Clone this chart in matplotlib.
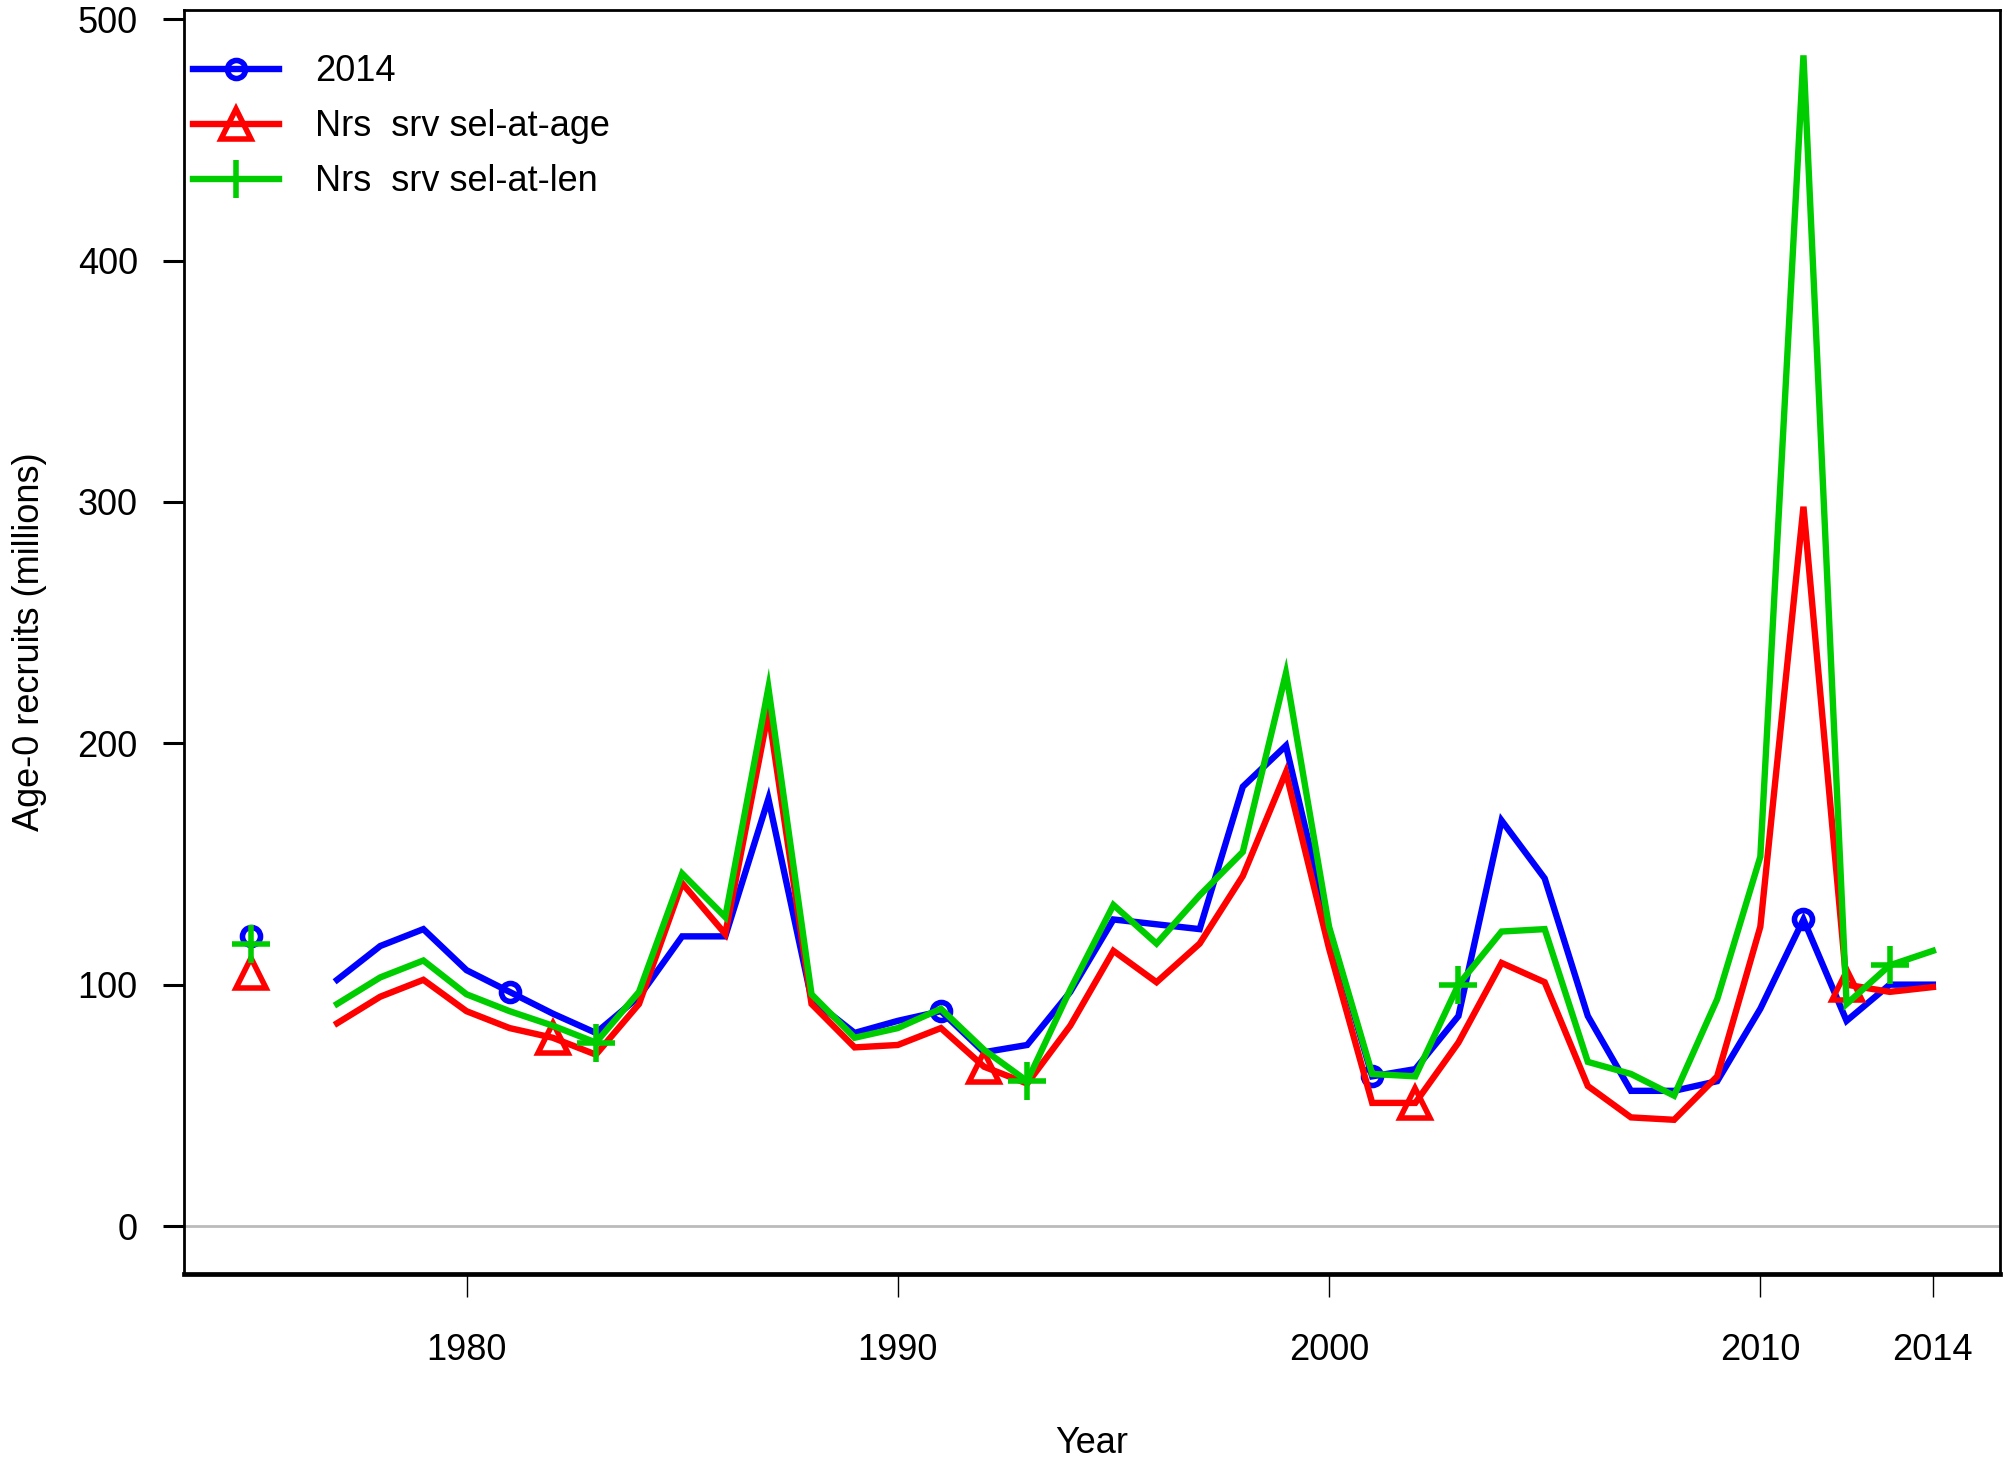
import numpy as np
import matplotlib
matplotlib.use("Agg")
import matplotlib.pyplot as plt

plt.rcParams["font.family"] = ["Liberation Sans", "DejaVu Sans"]

# Data: age-0 recruits (millions); 1975 = virgin, 1976 not estimated
years = list(range(1975, 2015))

rec_2014 = [120, np.nan,
            102, 116, 123, 106, 97, 88, 80, 95, 120, 120, 177, 94, 80, 85,
            89, 72, 75, 97, 127, 125, 123, 182, 199, 123, 62, 65, 87, 168,
            144, 87, 56, 56, 60, 90, 127, 85, 100, 100]
rec_age = [105, np.nan,
           84, 95, 102, 89, 82, 78, 71, 92, 142, 121, 213, 92, 74, 75,
           82, 66, 59, 83, 114, 101, 117, 145, 188, 115, 51, 51, 76, 109,
           101, 58, 45, 44, 62, 124, 298, 100, 97, 99]
rec_len = [117, np.nan,
           92, 103, 110, 96, 89, 83, 76, 97, 146, 128, 223, 96, 78, 82,
           90, 73, 60, 98, 133, 117, 137, 155, 229, 124, 63, 62, 100, 122,
           123, 68, 63, 54, 94, 153, 485, 92, 108, 114]

labels = ["2014", "Nrs  srv sel-at-age", "Nrs  srv sel-at-len"]
colors = ["#0000FF", "#FF0000", "#00CD00"]
markers = ["o", "^", "+"]
marker_years = [[1975, 1981, 1991, 2001, 2011],
                [1975, 1982, 1992, 2002, 2012],
                [1975, 1983, 1993, 2003, 2013]]
marker_sizes = [13, 21, 27]

fig = plt.figure(figsize=(20.13, 14.60), dpi=100)
ax = fig.add_axes([0.0912, 0.1277, 0.9024, 0.8653])

ax.axhline(0, color="#BBBBBB", lw=2, zorder=1)

for vals, lab, col, mk, myrs, ms in zip([rec_2014, rec_age, rec_len], labels,
                                         colors, markers, marker_years, marker_sizes):
    idx = [years.index(y) for y in myrs]
    ax.plot(years, vals, color=col, lw=4.6, marker=mk, markevery=idx,
            markersize=ms, markerfacecolor="none", markeredgecolor=col,
            markeredgewidth=4, label=lab, solid_joinstyle="miter", zorder=3)

ax.set_xlim(1973.44, 2015.56)
ax.set_ylim(-19.7, 503.7)
ax.set_xticks([1980, 1990, 2000, 2010, 2014])
ax.set_yticks([0, 100, 200, 300, 400, 500])
ax.tick_params(axis="x", length=16.5, width=1.0, pad=26, labelsize=26)
ax.tick_params(axis="y", length=15, width=2.2, pad=18, labelsize=26)

for s in ax.spines.values():
    s.set_linewidth(2)
ax.spines["bottom"].set_linewidth(3.4)

ax.set_xlabel("Year", fontsize=26, labelpad=42)
ax.set_ylabel("Age-0 recruits (millions)", fontsize=26, labelpad=22)

leg = ax.legend(loc="upper left", bbox_to_anchor=(0.005, 0.965), frameon=False,
                fontsize=26, handlelength=2.4, handletextpad=1.0,
                labelspacing=0.55, borderpad=0, borderaxespad=0)

fig.savefig("out.png", dpi=100)
